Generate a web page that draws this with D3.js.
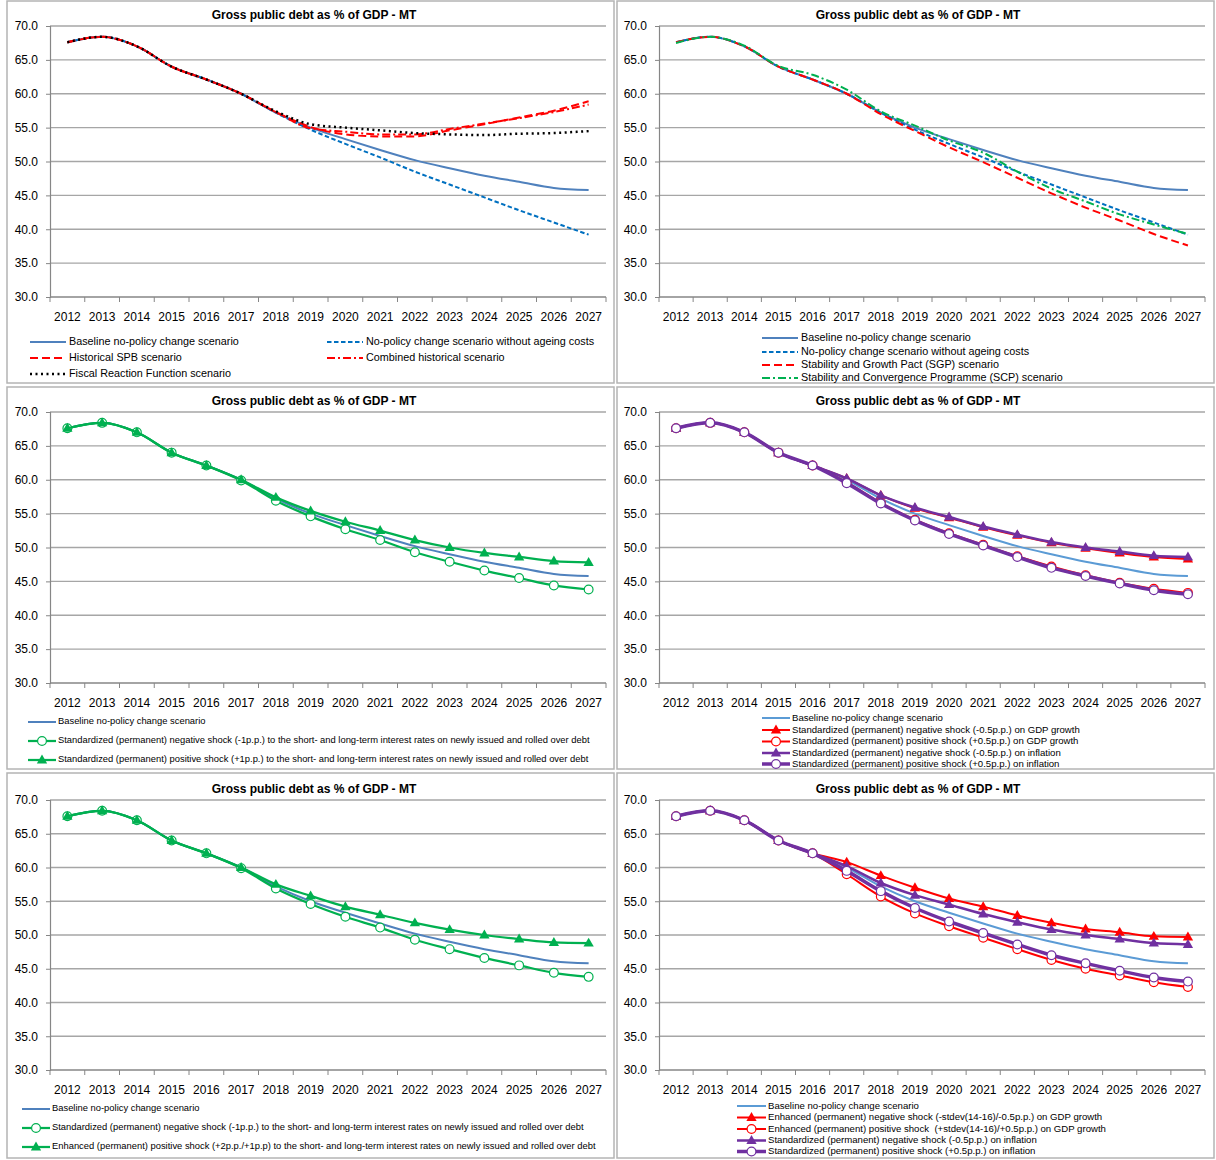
<!DOCTYPE html>
<html>
<head>
<meta charset="utf-8">
<script src="https://cdn.jsdelivr.net/npm/d3@7"></script>
<style>
  body { margin: 0; background: #fff; }
  svg { display: block; }
  text { font-family: "Liberation Sans", Arial, sans-serif; }
</style>
</head>
<body>
<div id="container"></div>
<script>
/* DATA */
const years = [2012, 2013, 2014, 2015, 2016, 2017, 2018, 2019, 2020, 2021, 2022, 2023, 2024, 2025, 2026, 2027];
const yTicks = [30, 35, 40, 45, 50, 55, 60, 65, 70];
const chartTitle = "Gross public debt as % of GDP - MT";

const baseline      = [67.6, 68.4, 67.0, 64.0, 62.1, 60.0, 57.2, 55.0, 53.3, 51.7, 50.2, 49.0, 47.9, 47.0, 46.1, 45.8];
const noAgeing      = [67.6, 68.4, 67.0, 64.0, 62.1, 60.0, 57.2, 54.7, 52.6, 50.6, 48.5, 46.6, 44.7, 42.8, 41.0, 39.2];
const histSPB       = [67.6, 68.4, 67.0, 64.0, 62.1, 60.0, 57.3, 55.1, 54.0, 53.7, 53.7, 54.6, 55.5, 56.5, 57.5, 58.9];
const combinedHist  = [67.6, 68.4, 67.0, 64.0, 62.1, 60.0, 57.3, 54.9, 54.4, 54.0, 54.0, 54.8, 55.6, 56.4, 57.3, 58.4];
const fiscalReact   = [67.6, 68.4, 67.0, 64.0, 62.1, 60.0, 57.4, 55.5, 55.0, 54.6, 54.2, 54.0, 53.9, 54.1, 54.2, 54.5];
const sgp           = [67.6, 68.4, 67.0, 64.0, 62.1, 60.0, 57.0, 54.5, 52.1, 49.9, 47.6, 45.3, 43.2, 41.3, 39.3, 37.6];
const scp           = [67.5, 68.4, 67.1, 64.1, 62.8, 60.6, 57.4, 55.3, 53.1, 51.3, 48.5, 46.0, 44.1, 42.2, 40.7, 39.3];
const irNeg         = [67.6, 68.4, 67.0, 64.0, 62.1, 59.9, 56.9, 54.6, 52.7, 51.1, 49.3, 47.9, 46.6, 45.5, 44.4, 43.8];
const irPos         = [67.6, 68.4, 67.0, 64.0, 62.1, 60.0, 57.4, 55.4, 53.8, 52.5, 51.1, 50.0, 49.2, 48.6, 48.0, 47.8];
const irPosEnh      = [67.6, 68.4, 67.0, 64.0, 62.1, 60.0, 57.5, 55.8, 54.2, 53.0, 51.8, 50.8, 50.0, 49.4, 48.9, 48.8];
const gdpNeg        = [67.6, 68.4, 67.0, 64.0, 62.1, 60.2, 57.7, 55.8, 54.4, 53.0, 51.8, 50.7, 49.9, 49.2, 48.6, 48.3];
const gdpPos        = [67.6, 68.4, 67.0, 64.0, 62.1, 59.6, 56.6, 54.1, 52.1, 50.4, 48.7, 47.2, 45.9, 44.8, 43.9, 43.3];
const inflNeg       = [67.6, 68.4, 67.0, 64.0, 62.1, 60.2, 57.7, 55.9, 54.5, 53.1, 51.9, 50.8, 50.0, 49.4, 48.8, 48.6];
const inflPos       = [67.6, 68.4, 67.0, 64.0, 62.1, 59.5, 56.5, 54.0, 52.0, 50.3, 48.6, 47.0, 45.8, 44.7, 43.7, 43.1];
const gdpNegEnh     = [67.6, 68.4, 67.0, 64.0, 62.1, 60.8, 58.8, 57.0, 55.4, 54.2, 52.9, 51.8, 50.9, 50.4, 49.8, 49.7];
const gdpPosEnh     = [67.6, 68.4, 67.0, 64.0, 62.1, 59.0, 55.7, 53.2, 51.3, 49.6, 47.9, 46.3, 45.0, 44.0, 43.0, 42.3];

/* STYLES */
const BLUE = "#4f81bd", BLUE2 = "#5b9bd5", DBLUE = "#0070c0", RED = "#ff0000", GREEN = "#00b050", PURPLE = "#7030a0";

const s = (label, values, color, width, opts = {}) => Object.assign({ label, values, color, width }, opts);

const panels = [
  { col: 0, row: 0, font: 10.8,
    legend: [[30, 342], [327, 342], [30, 358], [327, 358], [30, 374]], symLen: 36, textGap: 3,
    series: [
      s("Baseline no-policy change scenario", baseline, BLUE, 2),
      s("No-policy change scenario without ageing costs", noAgeing, DBLUE, 2, { dash: "4.5 2.5" }),
      s("Historical SPB scenario", histSPB, RED, 2, { dash: "8 4" }),
      s("Combined historical scenario", combinedHist, RED, 2, { dash: "8 3 2 3" }),
      s("Fiscal Reaction Function scenario", fiscalReact, "#000", 2.5, { dash: "2 3.5" })
    ] },
  { col: 1, row: 0, font: 10.8,
    legend: [[762, 338], [762, 352], [762, 365], [762, 378]], symLen: 36, textGap: 3,
    series: [
      s("Baseline no-policy change scenario", baseline, BLUE, 2),
      s("No-policy change scenario without ageing costs", noAgeing, DBLUE, 2, { dash: "4.5 2.5" }),
      s("Stability and Growth Pact (SGP) scenario", sgp, RED, 2, { dash: "8 4" }),
      s("Stability and Convergence Programme (SCP) scenario", scp, GREEN, 2, { dash: "8 3 2 3" })
    ] },
  { col: 0, row: 1, font: 9.4,
    legend: [[28, 722], [28, 741], [28, 760]], symLen: 28, textGap: 2,
    series: [
      s("Baseline no-policy change scenario", baseline, BLUE, 2),
      s("Standardized (permanent) negative shock (-1p.p.) to the short- and long-term interest rates on newly issued and rolled over debt", irNeg, GREEN, 2.25, { marker: "circle" }),
      s("Standardized (permanent) positive shock (+1p.p.) to the short- and long-term interest rates on newly issued and rolled over debt", irPos, GREEN, 2.25, { marker: "triangle" })
    ] },
  { col: 1, row: 1, font: 9.6,
    legend: [[762, 718], [762, 730], [762, 741.5], [762, 753], [762, 764]], symLen: 28, textGap: 2,
    series: [
      s("Baseline no-policy change scenario", baseline, BLUE2, 2),
      s("Standardized (permanent) negative shock (-0.5p.p.) on GDP growth", gdpNeg, RED, 2, { marker: "triangle" }),
      s("Standardized (permanent) positive shock (+0.5p.p.) on GDP growth", gdpPos, RED, 2, { marker: "circle" }),
      s("Standardized (permanent) negative shock (-0.5p.p.) on inflation", inflNeg, PURPLE, 2.5, { marker: "triangle" }),
      s("Standardized (permanent) positive shock (+0.5p.p.) on inflation", inflPos, PURPLE, 3.5, { marker: "circle" })
    ] },
  { col: 0, row: 2, font: 9.4,
    legend: [[22, 1109], [22, 1128], [22, 1147]], symLen: 28, textGap: 2,
    series: [
      s("Baseline no-policy change scenario", baseline, BLUE, 2),
      s("Standardized (permanent) negative shock (-1p.p.) to the short- and long-term interest rates on newly issued and rolled over debt", irNeg, GREEN, 2.25, { marker: "circle" }),
      s("Enhanced (permanent) positive shock (+2p.p./+1p.p) to the short- and long-term interest rates on newly issued and rolled over debt", irPosEnh, GREEN, 2.25, { marker: "triangle" })
    ] },
  { col: 1, row: 2, font: 9.6,
    legend: [[737, 1106], [737, 1117.5], [737, 1129], [737, 1140.5], [737, 1151.5]], symLen: 29, textGap: 2,
    series: [
      s("Baseline no-policy change scenario", baseline, BLUE2, 2),
      s("Enhanced (permanent) negative shock (-stdev(14-16)/-0.5p.p.) on GDP growth", gdpNegEnh, RED, 2, { marker: "triangle" }),
      s("Enhanced (permanent) positive shock  (+stdev(14-16)/+0.5p.p.) on GDP growth", gdpPosEnh, RED, 2, { marker: "circle" }),
      s("Standardized (permanent) negative shock (-0.5p.p.) on inflation", inflNeg, PURPLE, 2.5, { marker: "triangle" }),
      s("Standardized (permanent) positive shock (+0.5p.p.) on inflation", inflPos, PURPLE, 3.5, { marker: "circle" })
    ] }
];

/* LAYOUT */
const cols = [
  { fx: 7, fw: 607, x0: 50, x1: 606, tx: 314 },
  { fx: 617, fw: 597, x0: 659, x1: 1205, tx: 918 }
];
const rows = [
  { fy: 1, fh: 382, yTop: 26, yBot: 297, ty: 16 },
  { fy: 387, fh: 382, yTop: 412, yBot: 683, ty: 402 },
  { fy: 773, fh: 385, yTop: 800, yBot: 1070, ty: 790 }
];

const svg = d3.select("#container")
  .append("svg")
  .attr("width", 1216)
  .attr("height", 1160);

svg.append("rect").attr("width", 1216).attr("height", 1160).attr("fill", "#fff");

function drawMarker(g, type, x, y, color) {
  if (type === "triangle") {
    g.append("path")
      .attr("d", d3.symbol(d3.symbolTriangle, 46)())
      .attr("transform", `translate(${x},${y + 0.5})`)
      .attr("fill", color);
  } else if (type === "circle") {
    g.append("circle")
      .attr("cx", x).attr("cy", y).attr("r", 4.4)
      .attr("fill", "#fff")
      .attr("stroke", color)
      .attr("stroke-width", 1.2);
  }
}

panels.forEach(p => {
  const c = cols[p.col], r = rows[p.row];
  const g = svg.append("g");

  // frame
  g.append("rect")
    .attr("x", c.fx).attr("y", r.fy)
    .attr("width", c.fw).attr("height", r.fh)
    .attr("fill", "none")
    .attr("stroke", "#b4b4b4")
    .attr("stroke-width", 1.5);

  /* SCALES */
  const xScale = d3.scaleBand().domain(years).range([c.x0, c.x1]);
  const yScale = d3.scaleLinear().domain([30, 70]).range([r.yBot, r.yTop]);

  // gridlines
  g.selectAll(".grid")
    .data(yTicks.filter(t => t > 30))
    .join("line")
    .attr("x1", c.x0).attr("x2", c.x1)
    .attr("y1", d => yScale(d)).attr("y2", d => yScale(d))
    .attr("stroke", "#a6a6a6")
    .attr("stroke-width", 1.3);

  // y axis
  const yAxis = d3.axisLeft(yScale).tickValues(yTicks).tickFormat(d3.format(".1f")).tickSize(4).tickPadding(8);
  const ya = g.append("g").attr("transform", `translate(${c.x0},0)`).call(yAxis);
  ya.select(".domain").attr("stroke", "#868686").attr("stroke-width", 1.2);
  ya.selectAll(".tick line").attr("stroke", "#868686");
  ya.selectAll("text").attr("font-size", 12).attr("fill", "#000");

  // x axis
  const xAxis = d3.axisBottom(xScale).tickSize(0).tickPadding(15);
  const xa = g.append("g").attr("transform", `translate(0,${r.yBot})`).call(xAxis);
  xa.select(".domain").remove();
  xa.selectAll("text").attr("font-size", 12).attr("fill", "#000");

  g.append("line")
    .attr("x1", c.x0).attr("x2", c.x1)
    .attr("y1", r.yBot).attr("y2", r.yBot)
    .attr("stroke", "#868686").attr("stroke-width", 1.3);

  const edges = years.map(y => xScale(y)).concat([xScale.range()[1]]);
  g.selectAll(".xtick")
    .data(edges)
    .join("line")
    .attr("x1", d => d).attr("x2", d => d)
    .attr("y1", r.yBot).attr("y2", r.yBot + 5)
    .attr("stroke", "#868686");

  // title
  g.append("text")
    .attr("x", c.tx).attr("y", r.ty)
    .attr("text-anchor", "middle")
    .attr("dominant-baseline", "middle")
    .attr("font-size", 12)
    .attr("font-weight", "bold")
    .text(chartTitle);

  /* LINES */
  const line = d3.line()
    .x((d, i) => xScale(years[i]) + xScale.bandwidth() / 2)
    .y(d => yScale(d))
    .curve(d3.curveMonotoneX);

  p.series.forEach(sr => {
    g.append("path")
      .attr("d", line(sr.values))
      .attr("fill", "none")
      .attr("stroke", sr.color)
      .attr("stroke-width", sr.width)
      .attr("stroke-dasharray", sr.dash || null)
      .attr("stroke-linejoin", "round");
    if (sr.marker) {
      sr.values.forEach((v, i) => {
        drawMarker(g, sr.marker, xScale(years[i]) + xScale.bandwidth() / 2, yScale(v), sr.color);
      });
    }
  });

  /* LEGEND */
  p.series.forEach((sr, i) => {
    const [lx, ly] = p.legend[i];
    g.append("line")
      .attr("x1", lx).attr("x2", lx + p.symLen)
      .attr("y1", ly).attr("y2", ly)
      .attr("stroke", sr.color)
      .attr("stroke-width", sr.width)
      .attr("stroke-dasharray", sr.dash || null);
    if (sr.marker) drawMarker(g, sr.marker, lx + p.symLen / 2, ly, sr.color);
    g.append("text")
      .attr("x", lx + p.symLen + p.textGap)
      .attr("y", ly)
      .attr("dominant-baseline", "middle")
      .attr("font-size", p.font)
      .attr("xml:space", "preserve")
      .text(sr.label);
  });
});
</script>
</body>
</html>
